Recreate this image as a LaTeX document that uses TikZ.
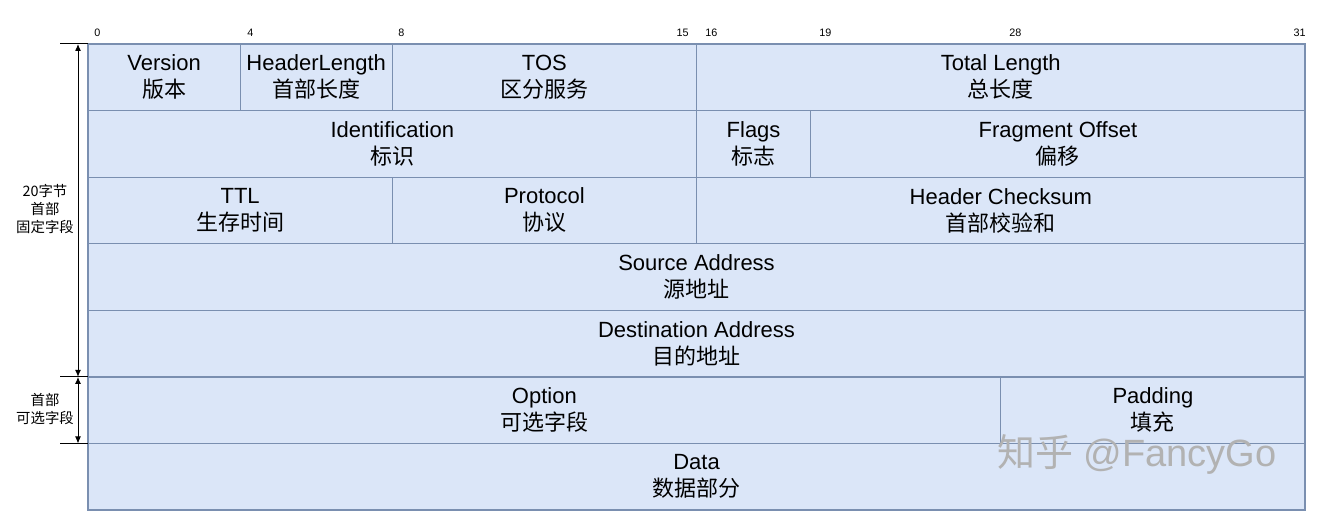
\documentclass[tikz,border=0pt]{standalone}
\usepackage{fontspec}
\setmainfont{Liberation Sans}
\newfontfamily\cjk{Noto Sans CJK SC}
\usepackage{tikz}
\usetikzlibrary{arrows.meta,positioning}
\definecolor{fieldfill}{HTML}{DBE6F8}
\definecolor{fieldline}{HTML}{7A8FB0}
\newcommand{\bitw}{19.016pt}
\newcommand{\rowh}{33.29pt}

\begin{document}
\begin{tikzpicture}[
    x=0.5pt, y=-0.5pt,
    >={Latex[length=3.5pt,width=3pt]},
    field/.style = {draw=fieldline, fill=fieldfill, line width=0.6pt,
                    minimum height=\rowh, inner sep=0pt, outer sep=0pt,
                    align=center, font=\fontsize{11}{13.5}\selectfont},
    bits/.style  = {font=\fontsize{5.4}{6}\selectfont, inner sep=0pt},
    side/.style  = {font=\fontsize{7.2}{9}\selectfont\cjk, align=center},
    span/.style  = {<->, line width=0.5pt},
    tick/.style  = {line width=0.5pt}
  ]
  \useasboundingbox (0,0) rectangle (1336,524);

  %–––– first word ––––
  \node[field, minimum width=4*\bitw, anchor=north west] (ver) at (88,44) {Version\\{\cjk 版本}};
  \node[field, minimum width=4*\bitw, right=0pt of ver]   (hlen) {HeaderLength\\{\cjk 首部长度}};
  \node[field, minimum width=8*\bitw, right=0pt of hlen]  (tos)  {TOS\\{\cjk 区分服务}};
  \node[field, minimum width=16*\bitw, right=0pt of tos]  (tlen) {Total Length\\{\cjk 总长度}};

  %–––– second word ––––
  \node[field, minimum width=16*\bitw, below=0pt of ver.south west, anchor=north west] (ident) {Identification\\{\cjk 标识}};
  \node[field, minimum width=3*\bitw, right=0pt of ident] (flags) {Flags\\{\cjk 标志}};
  \node[field, minimum width=13*\bitw, right=0pt of flags] (frag) {Fragment Offset\\{\cjk 偏移}};

  %–––– third word ––––
  \node[field, minimum width=8*\bitw, below=0pt of ident.south west, anchor=north west] (ttl) {TTL\\{\cjk 生存时间}};
  \node[field, minimum width=8*\bitw, right=0pt of ttl]   (proto) {Protocol\\{\cjk 协议}};
  \node[field, minimum width=16*\bitw, right=0pt of proto] (csum) {Header Checksum\\{\cjk 首部校验和}};

  %–––– addresses ––––
  \node[field, minimum width=32*\bitw, below=0pt of ttl.south west, anchor=north west] (src) {Source Address\\{\cjk 源地址}};
  \node[field, minimum width=32*\bitw, below=0pt of src.south west, anchor=north west] (dst) {Destination Address\\{\cjk 目的地址}};

  %–––– options and data ––––
  \node[field, minimum width=24*\bitw, below=0pt of dst.south west, anchor=north west] (opt) {Option\\{\cjk 可选字段}};
  \node[field, minimum width=8*\bitw, right=0pt of opt] (pad) {Padding\\{\cjk 填充}};
  \node[field, minimum width=32*\bitw, below=0pt of opt.south west, anchor=north west] (data) {Data\\{\cjk 数据部分}};

  %–––– bit numbers ––––
  \foreach \b/\px in {0/94,4/247,8/398,16/705,19/819,28/1009}
    \node[bits, anchor=west] (b\b) at (\px,33) {\b};
  \node[bits, anchor=east] (b15) at (689,33) {15};
  \node[bits, anchor=east] (b31) at (1306,33) {31};

  %–––– header length marks ––––
  \foreach \n in {ver,opt,data}
    \draw[tick] (\n.north west) -- ++(-28,0);
  \coordinate (s0) at ([xshift=-5pt]ver.north west);
  \coordinate (s1) at ([xshift=-5pt]opt.north west);
  \coordinate (s2) at ([xshift=-5pt]data.north west);
  \draw[span] (s0) -- (s1);
  \draw[span] (s1) -- (s2);

  \node[side] (fixlbl) at (45,209) {20字节\\首部\\固定字段};
  \node[side] (optlbl) at (45,409) {首部\\可选字段};

  % watermark
  \node[font=\fontsize{19}{20}\selectfont, text=black!30] (wm) at (1137,454) {{\cjk 知乎} @FancyGo};

\end{tikzpicture}
\end{document}
